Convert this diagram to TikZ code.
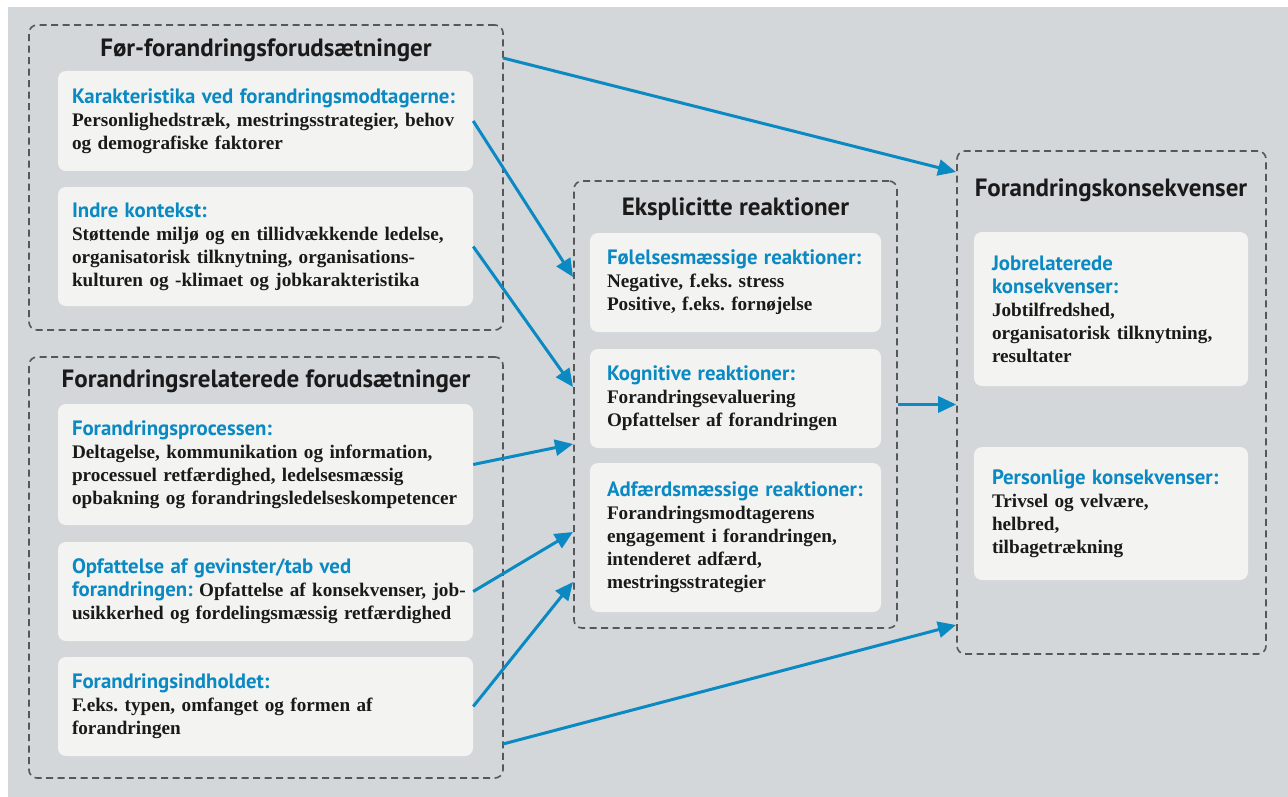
\documentclass[tikz,border=0pt]{standalone}
\usepackage{fontspec}
\setmainfont{Liberation Serif}
\newfontfamily\headfont{PT Sans}
\usepackage{xcolor}
\usepackage{tikz}
\usetikzlibrary{arrows.meta}
\definecolor{bg}{HTML}{D3D7DA}
\definecolor{cardfill}{HTML}{F3F3F2}
\definecolor{accent}{HTML}{0A89C2}
\definecolor{frame}{HTML}{555759}
\definecolor{ink}{HTML}{1A1A1A}
\tikzset{
  group/.style={draw=frame, line width=1.6pt, dash pattern=on 7pt off 4.5pt, rounded corners=8pt},
  grouptitle/.style={text=ink, font=\headfont\bfseries\fontsize{25}{29}\selectfont},
  card/.style={fill=cardfill, rounded corners=8pt, text=ink, align=left, inner ysep=0pt,
    font=\frenchspacing\bfseries\fontsize{19.2}{23}\selectfont},
  link/.style={draw=accent, line width=3pt, -{Triangle[length=18pt,width=16pt]}},
}
\newcommand{\cardhead}[1]{{\headfont\bfseries\fontsize{20.8}{23}\selectfont\color{accent}#1}}

\begin{document}
\begin{tikzpicture}[x=1pt, y=-1pt]
  \useasboundingbox (0,0) rectangle (1288,797);
  \fill[bg] (8,7) rectangle (1288,797);
  % groups
  \node[group, minimum width=474pt, minimum height=305pt] (pre) at (266,177.5) {};
  \node[grouptitle] (pretitle) at (266,50) {Før-forandringsforudsætninger};
  \node[group, minimum width=474pt, minimum height=421pt] (rel) at (266,567.5) {};
  \node[grouptitle] (reltitle) at (266,381) {Forandringsrelaterede forudsætninger};
  \node[group, minimum width=323pt, minimum height=447pt] (reak) at (735.5,404.5) {};
  \node[grouptitle] (reaktitle) at (735.5,209) {Eksplicitte reaktioner};
  \node[group, minimum width=309pt, minimum height=503pt] (kons) at (1111.5,402.5) {};
  \node[grouptitle] (konstitle) at (1111,190) {Forandringskonsekvenser};
  % cards, left column
  \node[card, inner xsep=14pt, text width=387pt, minimum height=100pt] (karak) at (265.5,121)
    {\cardhead{Karakteristika ved forandringsmodtagerne:}\\
     Personlighedstræk, mestringsstrategier, behov\\
     og demografiske faktorer};
  \node[card, inner xsep=14pt, text width=387pt, minimum height=119pt] (indre) at (265.5,246.5)
    {\cardhead{Indre kontekst:}\\
     Støttende miljø og en tillidvækkende ledelse,\\
     organisatorisk tilknytning, organisations-\\
     kulturen og -klimaet og jobkarakteristika};
  \node[card, inner xsep=14pt, text width=387pt, minimum height=121pt] (proc) at (265.5,464.5)
    {\cardhead{Forandringsprocessen:}\\
     Deltagelse, kommunikation og information,\\
     processuel retfærdighed, ledelsesmæssig\\
     opbakning og forandringsledelseskompetencer};
  \node[card, inner xsep=14pt, text width=387pt, minimum height=99pt] (gevinst) at (265.5,591.5)
    {\cardhead{Opfattelse af gevinster/tab ved}\\
     \mbox{\cardhead{forandringen:} Opfattelse af konsekvenser, job-}\\
     usikkerhed og fordelingsmæssig retfærdighed};
  \node[card, inner xsep=14pt, text width=387pt, minimum height=99pt] (indhold) at (265.5,706.5)
    {\cardhead{Forandringsindholdet:}\\
     F.eks. typen, omfanget og formen af\\
     forandringen};
  % cards, middle column
  \node[card, inner xsep=17pt, text width=257pt, minimum height=99pt] (foles) at (735.5,282.5)
    {\cardhead{Følelsesmæssige reaktioner:}\\
     Negative, f.eks. stress\\
     Positive, f.eks. fornøjelse};
  \node[card, inner xsep=17pt, text width=257pt, minimum height=99pt] (kogn) at (735.5,398.5)
    {\cardhead{Kognitive reaktioner:}\\
     Forandringsevaluering\\
     Opfattelser af forandringen};
  \node[card, inner xsep=17pt, text width=257pt, minimum height=149pt] (adf) at (735.5,537.5)
    {\cardhead{Adfærdsmæssige reaktioner:}\\
     Forandringsmodtagerens\\
     engagement i forandringen,\\
     intenderet adfærd,\\
     mestringsstrategier};
  % cards, right column
  \node[card, inner xsep=18pt, text width=238pt, minimum height=154pt] (job) at (1111,309)
    {\cardhead{Jobrelaterede}\\
     \cardhead{konsekvenser:}\\
     Jobtilfredshed,\\
     organisatorisk tilknytning,\\
     resultater};
  \node[card, inner xsep=18pt, text width=238pt, minimum height=133pt] (pers) at (1111,513.5)
    {\cardhead{Personlige konsekvenser:}\\
     Trivsel og velvære,\\
     helbred,\\
     tilbagetrækning};
  % arrow ends
  \coordinate (preout) at (503,58);
  \coordinate (relout) at (503,744);
  \coordinate (konsin1) at (956,172);
  \coordinate (konsin2) at (956,625);
  \coordinate (reakin1) at (573,277);
  \coordinate (reakin2) at (573,387);
  \coordinate (reakin3) at (573,444);
  \coordinate (reakin4) at (573,532);
  \coordinate (reakin5) at (573,582);
  \draw[link] (preout) -- (konsin1);
  \draw[link] (karak.east) -- (reakin1);
  \draw[link] (indre.east) -- (reakin2);
  \draw[link] (proc.east) -- (reakin3);
  \draw[link] (gevinst.east) -- (reakin4);
  \draw[link] (indhold.east) -- (reakin5);
  \draw[link] (relout) -- (konsin2);
  \draw[link] (reak.east) -- (kons.west |- reak.east);
\end{tikzpicture}
\end{document}
